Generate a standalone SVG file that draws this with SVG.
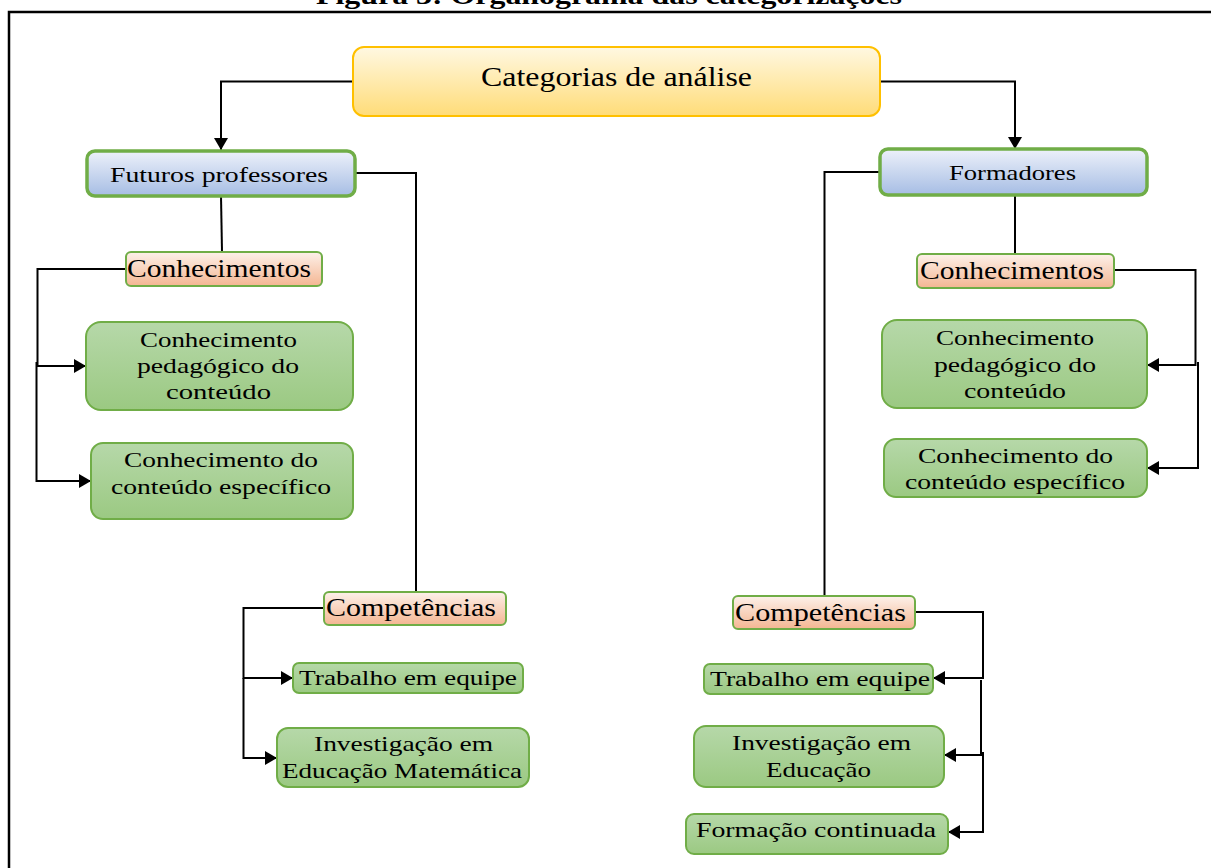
<svg xmlns="http://www.w3.org/2000/svg" width="1211" height="868" viewBox="0 0 1211 868">
  <style>
    text { font-family: "Liberation Serif", "Times New Roman", serif; fill: #000; }
    .title { font-weight: bold; font-size: 25px; }
    .root-t { font-size: 27px; }
    .head-t { font-size: 22px; }
    .sub-t { font-size: 25px; }
    .leaf-t { font-size: 21px; }
    .root { fill: url(#gYellow); stroke: #ffc000; stroke-width: 2; }
    .head { fill: url(#gBlue); stroke: #70ad47; stroke-width: 3.5; }
    .sub { fill: url(#gPeach); stroke: #70ad47; stroke-width: 2; }
    .leaf { fill: url(#gGreen); stroke: #70ad47; stroke-width: 2; }
    .frame { fill: none; stroke: #000; stroke-width: 2.5; }
    .conn path { fill: none; stroke: #000; stroke-width: 2; }
    .arrow { marker-end: url(#arrowHead); }
  </style>
  <defs>
    <linearGradient id="gYellow" x1="0" y1="0" x2="0" y2="1">
      <stop offset="0" stop-color="#fff8e2"/>
      <stop offset="1" stop-color="#ffdc78"/>
    </linearGradient>
    <linearGradient id="gBlue" x1="0" y1="0" x2="0" y2="1">
      <stop offset="0" stop-color="#edf1fa"/>
      <stop offset="1" stop-color="#a6bde4"/>
    </linearGradient>
    <linearGradient id="gPeach" x1="0" y1="0" x2="0" y2="1">
      <stop offset="0" stop-color="#fdf1ea"/>
      <stop offset="1" stop-color="#f4b692"/>
    </linearGradient>
    <linearGradient id="gGreen" x1="0" y1="0" x2="0" y2="1">
      <stop offset="0" stop-color="#b6d8a9"/>
      <stop offset="1" stop-color="#9bc982"/>
    </linearGradient>
    <marker id="arrowHead" markerUnits="userSpaceOnUse" markerWidth="12" markerHeight="14" refX="12" refY="7" orient="auto">
      <path d="M0,0 L12,7 L0,14 z" fill="#000"/>
    </marker>
  </defs>

  <rect width="1211" height="868" fill="#fff"/>

  <!-- caption and frame -->
  <text class="title" x="316" y="3.5" textLength="586" lengthAdjust="spacingAndGlyphs">Figura 3: Organograma das categorizações</text>
  <path class="frame" d="M9,868 V12 H1211"/>

  <!-- connectors -->
  <g id="connectors" class="conn">
    <path class="arrow" d="M353,81.5 H221 V150"/>
    <path class="arrow" d="M880,81.5 H1015 V149"/>
    <path d="M221,196 L222,252"/>
    <path d="M355,173 H416 V592"/>
    <path class="arrow" d="M126,269 H37.5 V366 H86"/>
    <path class="arrow" d="M36.5,362 V481 H91"/>
    <path class="arrow" d="M324,608 H243.5 V678 H293"/>
    <path class="arrow" d="M243.5,678 V758 H277"/>
    <path d="M1015,195 V254"/>
    <path d="M880,172 H824.5 V596"/>
    <path class="arrow" d="M1114,270 H1195.5 V365 H1147"/>
    <path class="arrow" d="M1198,362 V468 H1147"/>
    <path class="arrow" d="M915,612 H983 V678 H933"/>
    <path class="arrow" d="M981,680 V755 H944"/>
    <path class="arrow" d="M983,752 V832 H948"/>
  </g>

  <!-- nodes -->
  <g id="root">
    <rect class="root" x="353" y="47" width="527" height="69" rx="11"/>
    <text class="root-t" x="481" y="86" textLength="271" lengthAdjust="spacingAndGlyphs">Categorias  de  análise</text>
  </g>

  <g id="futuros">
    <rect class="head" x="87" y="151" width="268" height="45" rx="8"/>
    <text class="head-t" x="110" y="182" textLength="218" lengthAdjust="spacingAndGlyphs">Futuros professores</text>
  </g>

  <g id="formadores">
    <rect class="head" x="880" y="149" width="267" height="46" rx="8"/>
    <text class="head-t" x="949" y="180" textLength="127" lengthAdjust="spacingAndGlyphs">Formadores</text>
  </g>

  <g id="conhecimentos-fp">
    <rect class="sub" x="126" y="252" width="196" height="34" rx="5"/>
    <text class="sub-t" x="127" y="277" textLength="184" lengthAdjust="spacingAndGlyphs">Conhecimentos</text>
  </g>

  <g id="conhecimentos-fo">
    <rect class="sub" x="917" y="254" width="197" height="34" rx="5"/>
    <text class="sub-t" x="920" y="279" textLength="184" lengthAdjust="spacingAndGlyphs">Conhecimentos</text>
  </g>

  <g id="cpc-fp">
    <rect class="leaf" x="86" y="322" width="267" height="88" rx="15"/>
    <text class="leaf-t" x="140" y="347" textLength="157" lengthAdjust="spacingAndGlyphs">Conhecimento</text>
    <text class="leaf-t" x="137" y="373" textLength="162" lengthAdjust="spacingAndGlyphs">pedagógico do</text>
    <text class="leaf-t" x="166" y="399" textLength="105" lengthAdjust="spacingAndGlyphs">conteúdo</text>
  </g>

  <g id="cce-fp">
    <rect class="leaf" x="91" y="443" width="262" height="76" rx="12"/>
    <text class="leaf-t" x="124" y="467" textLength="194" lengthAdjust="spacingAndGlyphs">Conhecimento do</text>
    <text class="leaf-t" x="111" y="494" textLength="220" lengthAdjust="spacingAndGlyphs">conteúdo específico</text>
  </g>

  <g id="cpc-fo">
    <rect class="leaf" x="882" y="320" width="265" height="88" rx="15"/>
    <text class="leaf-t" x="936" y="345" textLength="158" lengthAdjust="spacingAndGlyphs">Conhecimento</text>
    <text class="leaf-t" x="934" y="372" textLength="162" lengthAdjust="spacingAndGlyphs">pedagógico do</text>
    <text class="leaf-t" x="964" y="398" textLength="102" lengthAdjust="spacingAndGlyphs">conteúdo</text>
  </g>

  <g id="cce-fo">
    <rect class="leaf" x="884" y="439" width="263" height="58" rx="12"/>
    <text class="leaf-t" x="918" y="463" textLength="195" lengthAdjust="spacingAndGlyphs">Conhecimento do</text>
    <text class="leaf-t" x="905" y="489" textLength="220" lengthAdjust="spacingAndGlyphs">conteúdo específico</text>
  </g>

  <g id="competencias-fp">
    <rect class="sub" x="324" y="592" width="182" height="33" rx="5"/>
    <text class="sub-t" x="326" y="616" textLength="170" lengthAdjust="spacingAndGlyphs">Competências</text>
  </g>

  <g id="competencias-fo">
    <rect class="sub" x="733" y="596" width="182" height="33" rx="5"/>
    <text class="sub-t" x="735" y="621" textLength="171" lengthAdjust="spacingAndGlyphs">Competências</text>
  </g>

  <g id="trabalho-fp">
    <rect class="leaf" x="293" y="663" width="230" height="30" rx="6"/>
    <text class="leaf-t" x="299" y="685" textLength="218" lengthAdjust="spacingAndGlyphs">Trabalho em equipe</text>
  </g>

  <g id="investigacao-fp">
    <rect class="leaf" x="277" y="728" width="252" height="59" rx="11"/>
    <text class="leaf-t" x="314" y="751" textLength="179" lengthAdjust="spacingAndGlyphs">Investigação em</text>
    <text class="leaf-t" x="282" y="778" textLength="240" lengthAdjust="spacingAndGlyphs">Educação Matemática</text>
  </g>

  <g id="trabalho-fo">
    <rect class="leaf" x="704" y="664" width="229" height="30" rx="6"/>
    <text class="leaf-t" x="710" y="686" textLength="220" lengthAdjust="spacingAndGlyphs">Trabalho em equipe</text>
  </g>

  <g id="investigacao-fo">
    <rect class="leaf" x="694" y="726" width="250" height="61" rx="12"/>
    <text class="leaf-t" x="732" y="750" textLength="179" lengthAdjust="spacingAndGlyphs">Investigação em</text>
    <text class="leaf-t" x="766" y="777" textLength="105" lengthAdjust="spacingAndGlyphs">Educação</text>
  </g>

  <g id="formacao-fo">
    <rect class="leaf" x="686" y="814" width="262" height="40" rx="8"/>
    <text class="leaf-t" x="696" y="837" textLength="240" lengthAdjust="spacingAndGlyphs">Formação  continuada</text>
  </g>
</svg>
